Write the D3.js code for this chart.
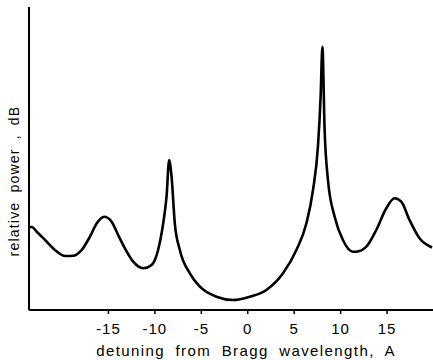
<!DOCTYPE html>
<html>
<head>
<meta charset="utf-8">
<script src="https://cdn.jsdelivr.net/npm/d3@7"></script>
<style>
    body { margin: 0; background: #fff; }
    svg { display: block; }
    text { font-family: "Liberation Sans", Arial, sans-serif; fill: #000; }
</style>
</head>
<body>
<div id="chart"></div>
<script>
'use strict';

// detuning from Bragg wavelength (A)
const detuning = [
    -23.5, -23.2, -22.67, -21.77, -20.7, -19.6, -18.7, -17.83, -16.94, -16.2,
    -15.4, -14.6, -13.9, -13.17, -12.28, -11.2, -10.3, -9.6, -9.05, -8.69,
    -8.41, -8.15, -7.8, -7.26, -6.18, -5.1, -3.31, -1.53, 0.27, 2.06,
    3.85, 5.29, 6.37, 7.08, 7.61, 7.9, 8.09, 8.33, 8.69, 9.41,
    10.3, 11.38, 11.74, 12.82, 13.89, 14.97, 15.86, 16.58, 17.47, 18.55,
    19.9
];
// relative power (dB, arbitrary zero)
const power = [
    8.27, 8.3, 7.83, 7.0, 6.0, 5.4, 5.43, 6.0, 7.33, 8.67,
    9.33, 8.83, 7.5, 6.17, 4.83, 4.17, 4.5, 6.0, 8.67, 11.33,
    15.0, 13.33, 8.67, 6.0, 3.67, 2.33, 1.33, 1.0, 1.33, 2.0,
    3.67, 6.0, 8.67, 12.0, 16.33, 21.33, 26.33, 18.0, 13.0, 9.33,
    7.0, 5.83, 5.83, 6.33, 8.0, 10.17, 11.17, 10.83, 9.0, 7.17,
    6.25
];
const xTicks = [-15, -10, -5, 0, 5, 10, 15];

const width = 433;
const height = 360;
const margin = { top: 7, right: 0, bottom: 50, left: 29 };

var svg = d3.select('#chart').append('svg')
    .attr('width', width)
    .attr('height', height);

var x = d3.scaleLinear()
    .domain([-23.5, 20])
    .range([margin.left, width - margin.right]);
var y = d3.scaleLinear()
    .domain([0, 30.3])
    .range([height - margin.bottom, margin.top]);

// axes
var xAxis = d3.axisBottom(x)
    .tickValues(xTicks)
    .tickSize(4)
    .tickPadding(9)
    .tickFormat(function (d) { return d < 0 ? '-' + Math.abs(d) : d; });

var gx = svg.append('g')
    .attr('transform', 'translate(0,' + (height - margin.bottom) + ')')
    .call(xAxis);
gx.select('.domain').remove();
gx.selectAll('.tick line').attr('stroke', '#000').attr('stroke-width', 1.5);
gx.selectAll('.tick text')
    .attr('font-size', 15)
    .style('letter-spacing', '1px')
    .style('font-family', '"Liberation Sans", Arial, sans-serif');

svg.append('line')
    .attr('x1', margin.left).attr('x2', width)
    .attr('y1', height - margin.bottom).attr('y2', height - margin.bottom)
    .attr('stroke', '#000').attr('stroke-width', 2);
svg.append('line')
    .attr('x1', margin.left).attr('x2', margin.left)
    .attr('y1', margin.top).attr('y2', height - margin.bottom)
    .attr('stroke', '#000').attr('stroke-width', 2);

// curve
var line = d3.line()
    .x(function (d, i) { return x(detuning[i]); })
    .y(function (d) { return y(d); })
    .curve(d3.curveMonotoneX);

svg.append('path')
    .datum(power)
    .attr('d', line)
    .attr('fill', 'none')
    .attr('stroke', '#000')
    .attr('stroke-width', 2.6)
    .attr('stroke-linejoin', 'round');

// labels
svg.append('text')
    .attr('x', 246)
    .attr('y', 356)
    .attr('text-anchor', 'middle')
    .attr('font-size', 15)
    .style('letter-spacing', '1.4px')
    .style('word-spacing', '5px')
    .text('detuning from Bragg wavelength, A');

svg.append('text')
    .attr('transform', 'translate(19,181) rotate(-90)')
    .attr('text-anchor', 'middle')
    .attr('font-size', 14)
    .style('letter-spacing', '1.2px')
    .style('word-spacing', '4px')
    .text('relative power , dB');
</script>
</body>
</html>
